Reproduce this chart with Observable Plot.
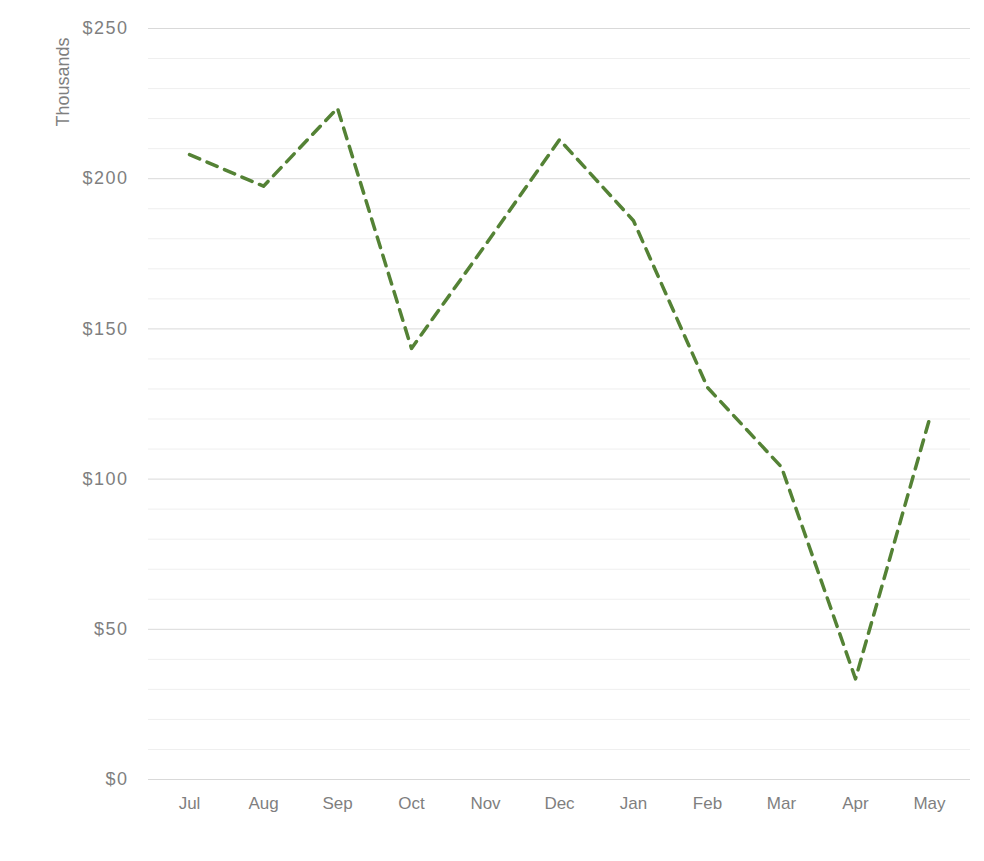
<!DOCTYPE html>
<html>
<head>
<meta charset="utf-8">
<script src="https://cdn.jsdelivr.net/npm/d3@7"></script>
<script src="https://cdn.jsdelivr.net/npm/@observablehq/plot@0.6"></script>
<style>
  html, body { margin: 0; padding: 0; background: #fff; }
  #chart { width: 984px; height: 861px; }
  .yax text { letter-spacing: 1.5px; }
</style>
</head>
<body>
<div id="chart"></div>
<script>
const months = ["Jul","Aug","Sep","Oct","Nov","Dec","Jan","Feb","Mar","Apr","May"];
const values = [208, 197.5, 223.5, 143.5, 178, 213, 186, 130.5, 104, 33.5, 120];
const majorTicks = [0, 50, 100, 150, 200, 250];
const minorTicks = [10,20,30,40,60,70,80,90,110,120,130,140,160,170,180,190,210,220,230,240];
const yLabel = "Thousands";

const data = months.map((m, i) => ({month: m, value: values[i]}));

const font = "'Liberation Sans', 'DejaVu Sans', sans-serif";

const chart = Plot.plot({
  width: 984,
  height: 861,
  marginLeft: 148,
  marginRight: 14,
  marginTop: 28,
  marginBottom: 82,
  style: { fontFamily: font, fontSize: "17px", color: "#7f7f7f", background: "#fff" },
  x: { type: "point", domain: months, padding: 0.5, label: null },
  y: { domain: [0, 250], label: null },
  marks: [
    Plot.ruleY(minorTicks, { stroke: "#efefef", strokeWidth: 1 }),
    Plot.ruleY(majorTicks, { stroke: "#d9d9d9", strokeWidth: 1 }),
    Plot.axisX({ tickSize: 0, tickPadding: 17, fill: "#7f7f7f", fontSize: 17, label: null }),
    Plot.axisY({ ticks: majorTicks, tickFormat: d => "$" + d, tickSize: 0, tickPadding: 20, fill: "#7f7f7f", fontSize: 18, label: null, className: "yax" }),
    Plot.line(data, {
      x: "month", y: "value",
      stroke: "#548235", strokeWidth: 3.5,
      strokeDasharray: "11,8", strokeLinecap: "round", strokeLinejoin: "round"
    })
  ]
});

const svg = d3.select(chart);
svg.append("text")
  .attr("transform", "translate(69,82) rotate(-90)")
  .attr("text-anchor", "middle")
  .attr("font-family", font)
  .attr("font-size", 18)
  .attr("fill", "#7f7f7f")
  .text(yLabel);

document.getElementById("chart").appendChild(chart);
</script>
</body>
</html>
